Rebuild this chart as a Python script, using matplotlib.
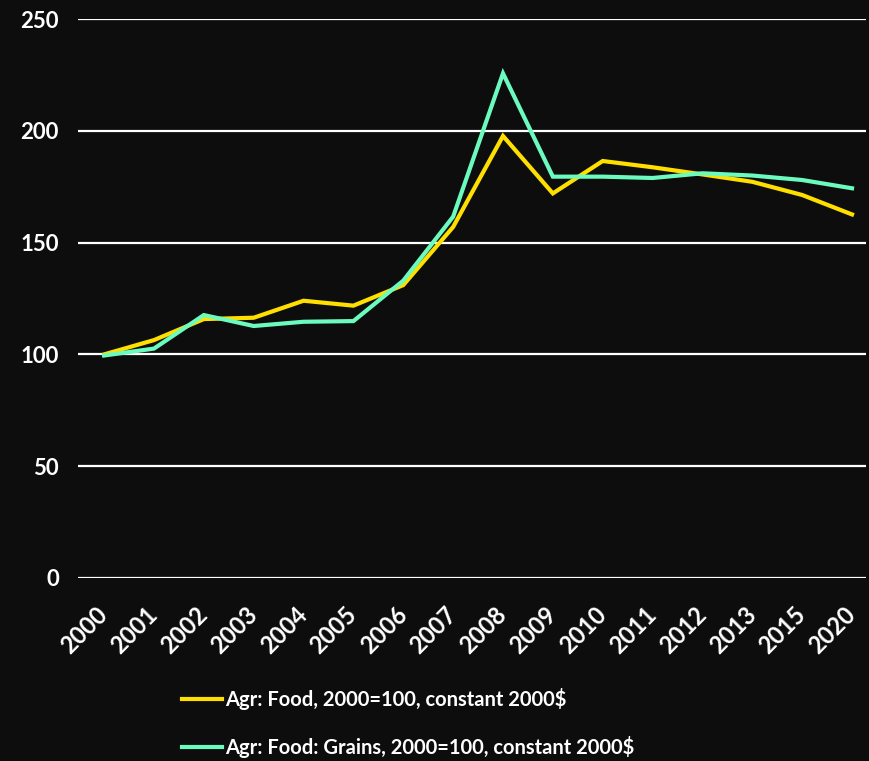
import matplotlib.pyplot as plt
import matplotlib.transforms as mtransforms

# Data
years = ['2000', '2001', '2002', '2003', '2004', '2005', '2006', '2007',
         '2008', '2009', '2010', '2011', '2012', '2013', '2015', '2020']
food = [100, 106.4, 115.8, 116.4, 124, 121.8, 131, 157,
        197.7, 172, 186.5, 183.7, 180.5, 177.2, 171.3, 162.6]
grains = [99.5, 102.6, 117.6, 112.7, 114.6, 114.9, 133, 161.6,
          225.7, 179.5, 179.5, 178.9, 181, 180, 178, 174.3]
labels = ['Agr: Food, 2000=100, constant 2000$',
          'Agr: Food: Grains, 2000=100, constant 2000$']

bg = '#0d0d0d'
plt.rcParams['font.family'] = ['Lato', 'DejaVu Sans']
plt.rcParams['font.weight'] = 'bold'

fig = plt.figure(figsize=(8.69, 7.61), dpi=100, facecolor=bg)
ax = fig.add_axes([0.09, 0.2405, 0.9065, 0.7345], facecolor=bg)

x = range(len(years))
ax.plot(x, food, color='#ffdf00', lw=3, label=labels[0], solid_joinstyle='miter')
ax.plot(x, grains, color='#6bfbbf', lw=3, label=labels[1], solid_joinstyle='miter')

ax.set_ylim(0, 250)
ax.set_xlim(-0.52, 15.28)
ax.set_yticks([0, 50, 100, 150, 200, 250])
ax.grid(axis='y', color='white', lw=1.6)
ax.set_axisbelow(True)
for s in ax.spines.values():
    s.set_visible(False)

ax.set_xticks(list(x))
ax.set_xticklabels(years, rotation=45, ha='right', va='top')
ax.tick_params(axis='both', length=0, colors='white', labelsize=16)
ax.tick_params(axis='x', pad=18, labelsize=17)
ax.tick_params(axis='y', pad=14)

# shift the rotated year labels a little to the right (after tick_params)
offset = mtransforms.ScaledTranslation(8 / 100, 0, fig.dpi_scale_trans)
for lab in ax.get_xticklabels():
    lab.set_transform(lab.get_transform() + offset)

leg = fig.legend(loc='upper left', bbox_to_anchor=(0.2, 0.106), frameon=False,
                 fontsize=14.5, handlelength=2.0, handletextpad=0.15, labelspacing=1.25,
                 borderaxespad=0)
for t in leg.get_texts():
    t.set_color('white')

fig.savefig('out.png', dpi=100, facecolor=bg)
